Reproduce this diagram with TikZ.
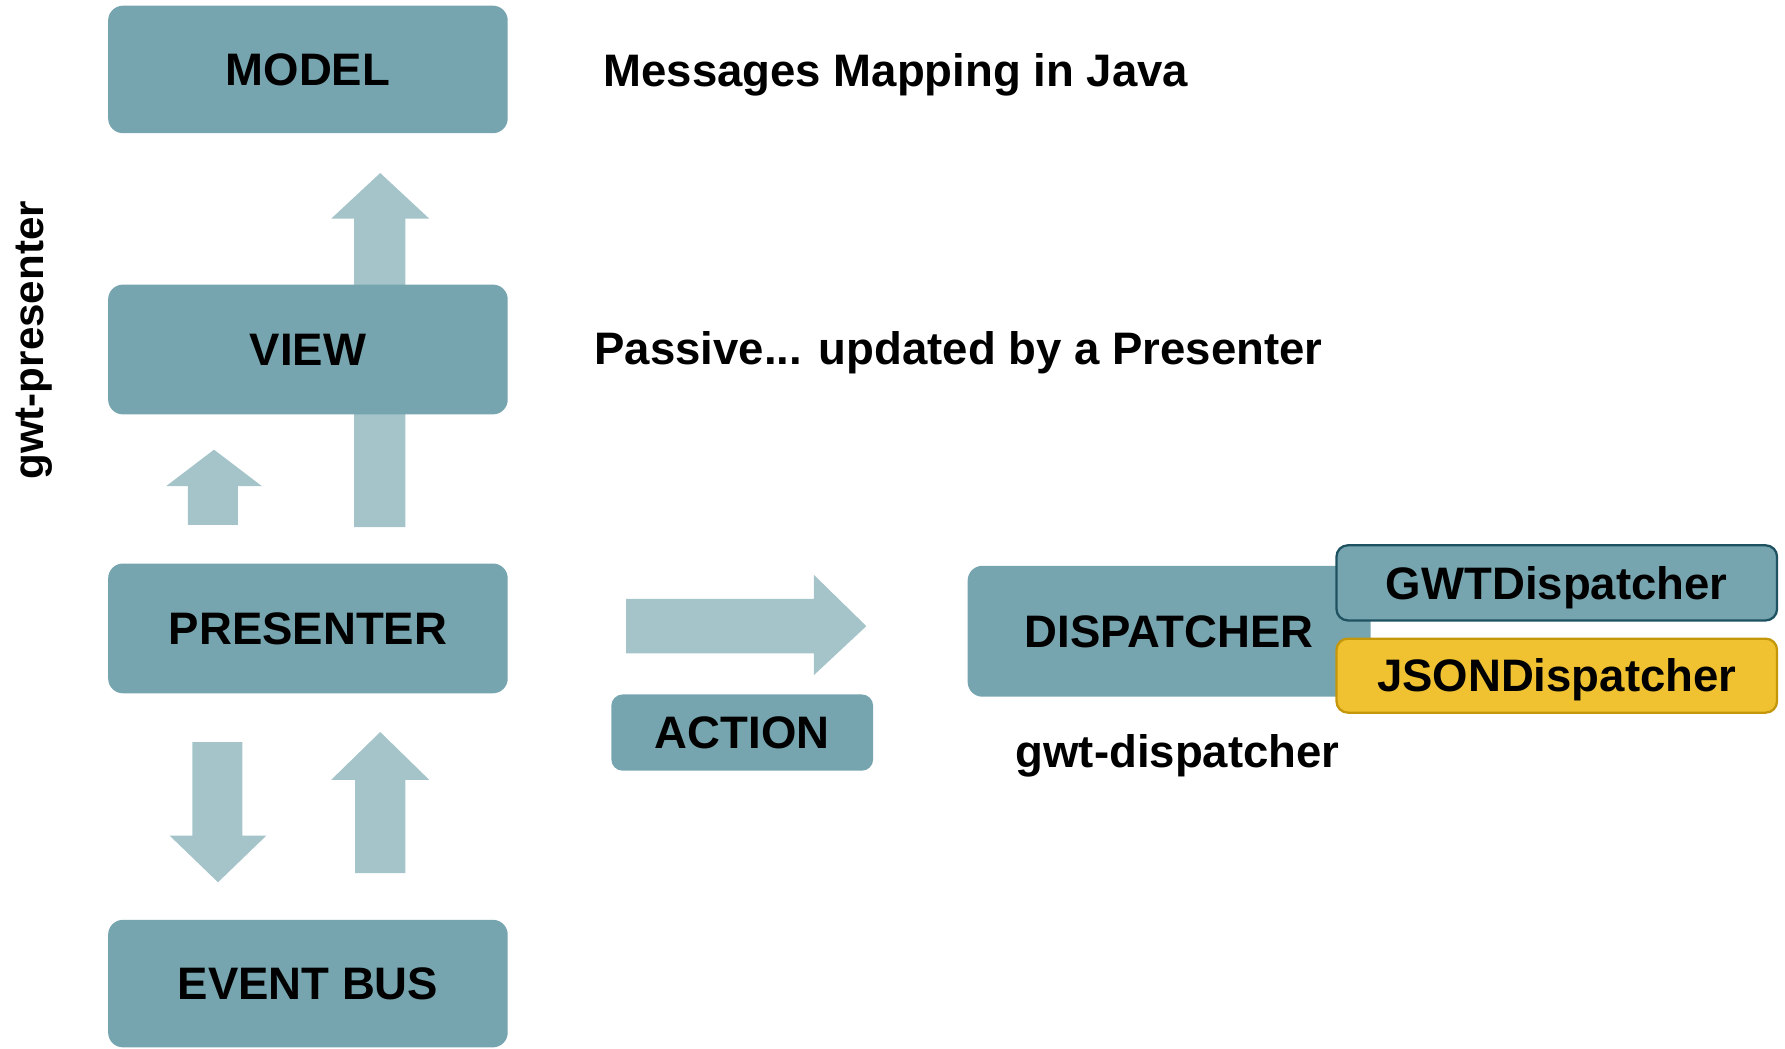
\documentclass[tikz,border=0pt]{standalone}
\usepackage{fontspec}
\setmainfont{Liberation Sans}
\definecolor{boxteal}{RGB}{118,165,175}
\definecolor{arrowteal}{RGB}{164,196,201}
\definecolor{gwtborder}{RGB}{30,82,96}
\definecolor{jsonfill}{RGB}{240,194,50}
\definecolor{jsonborder}{RGB}{196,150,10}
\tikzset{
  lbl/.style={font=\fontsize{40}{48}\selectfont\bfseries, text=black},
  tealbox/.style={lbl, fill=boxteal, draw=none, rounded corners=13pt, inner sep=0pt,
    text height=28.6pt, text depth=0pt},
  blockarrow/.style={fill=arrowteal, draw=none},
  plaintext/.style={lbl, inner sep=0pt, anchor=base west}
}
\begin{document}
\begin{tikzpicture}[x=1pt,y=1pt]
\useasboundingbox (0,0) rectangle (1568,-921);
% block arrows (behind the boxes)
\draw[blockarrow] (311,-463) -- (311,-192) -- (291,-192) -- (334,-152) -- (377,-192) -- (356,-192) -- (356,-463) -- cycle;
\draw[blockarrow] (165,-461) -- (165,-427) -- (146,-427) -- (188,-395) -- (230,-427) -- (209,-427) -- (209,-461) -- cycle;
\draw[blockarrow] (169,-652) -- (169,-734) -- (149,-734) -- (191.5,-775) -- (234,-734) -- (213,-734) -- (213,-652) -- cycle;
\draw[blockarrow] (312,-767) -- (312,-685) -- (291,-685) -- (334,-643) -- (377,-685) -- (356,-685) -- (356,-767) -- cycle;
\draw[blockarrow] (550,-526) -- (715,-526) -- (715,-505) -- (761,-550) -- (715,-593) -- (715,-574) -- (550,-574) -- cycle;
% boxes
\node[tealbox, minimum width=351pt, minimum height=112pt] (model) at (270.5,-61) {MODEL};
\node[tealbox, minimum width=351pt, minimum height=114pt] (view) at (270.5,-307) {VIEW};
\node[tealbox, minimum width=351pt, minimum height=114pt] (presenter) at (270.5,-552) {PRESENTER};
\node[tealbox, minimum width=351pt, minimum height=112pt] (eventbus) at (270.5,-864) {EVENT BUS};
\node[tealbox, minimum width=230pt, minimum height=67pt, rounded corners=10pt] (action) at (652,-643.5) {ACTION};
\node[tealbox, minimum width=354pt, minimum height=115pt] (dispatcher) at (1027,-554.5) {DISPATCHER};
\node[tealbox, draw=gwtborder, line width=2pt, minimum width=387pt, minimum height=66pt, rounded corners=10pt] (gwt) at (1367.5,-512) {GWTDispatcher};
\node[tealbox, fill=jsonfill, draw=jsonborder, line width=2pt, minimum width=387pt, minimum height=65pt, rounded corners=10pt] (json) at (1367.5,-593.5) {JSONDispatcher};
% plain texts
\node[plaintext] (msgs) at (530,-76) {Messages Mapping in Java};
\node[plaintext] (passive) at (522,-320) {Passive... updated by a Presenter};
\node[plaintext] (gwtdisp) at (892,-674) {gwt-dispatcher};
\node[lbl, font=\fontsize{37}{44}\selectfont\bfseries, inner sep=0pt, rotate=90, anchor=base] (gwtpres) at (38,-299) {gwt-presenter};
\end{tikzpicture}
\end{document}
